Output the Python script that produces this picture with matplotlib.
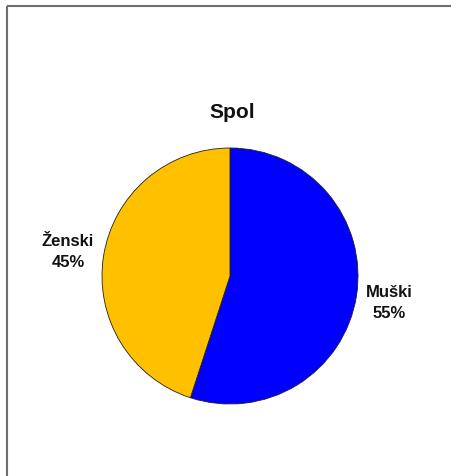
import matplotlib.pyplot as plt

plt.rcParams['font.family'] = ['Liberation Sans', 'DejaVu Sans']

title = "Spol"
labels = ["Muški", "Ženski"]
shares = [55, 45]
colors = ["#0000FF", "#FFC000"]

W, H = 451, 477
fig = plt.figure(figsize=(W / 100, H / 100), dpi=100)
ax = fig.add_axes([0, 0, 1, 1])

# pie in pixel units, blue slice starts at 12 o'clock going clockwise
ax.pie(shares, colors=colors, startangle=90, counterclock=False,
       center=(230, H - 277), radius=128,
       wedgeprops=dict(edgecolor="#202020", linewidth=0.6))

ax.set_xlim(0, W)
ax.set_ylim(0, H)
ax.set_aspect("equal")
ax.axis("off")

# slice labels
label_pos = [(389, H - 303), (68, H - 252)]
for name, val, (x, y) in zip(labels, shares, label_pos):
    ax.text(x, y, f"{name}\n{val}%", ha="center", va="center",
            fontsize=12, fontweight="bold", color="#111111", linespacing=1.55)

ax.text(232, H - 112, title, ha="center", va="center",
        fontsize=15, fontweight="bold", color="#111111")

# frame around the plot area
ax.plot([6.5, W], [H - 6.5, H - 6.5], color="#6e6e6e", lw=1.5, solid_capstyle="butt")
ax.plot([6.5, 6.5], [0, H - 6.5], color="#6e6e6e", lw=1.5, solid_capstyle="butt")

fig.savefig("out.png", dpi=100, facecolor="white")
